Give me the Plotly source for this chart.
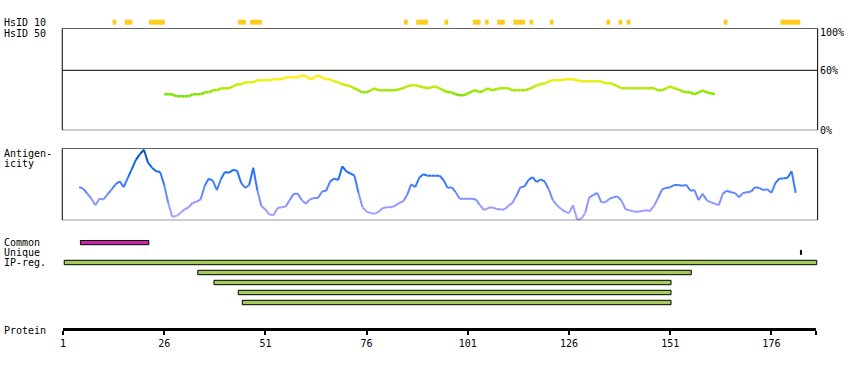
import plotly.graph_objects as go

# ---------------- data ----------------
protein_length = 187

# HsID 10 blocks (first and last residue of each block)
hsid10_start = [13, 16, 22, 44, 47, 85, 88, 95, 102, 105, 108, 112, 116, 121, 135, 138, 140, 164, 178]
hsid10_end   = [13, 17, 25, 45, 49, 85, 90, 95, 103, 105, 109, 114, 116, 121, 135, 138, 140, 164, 182]

# HsID 50 identity (%) per residue, starting at residue 26
hsid50_first_residue = 26
hsid50_percent = [
    36, 36, 36, 34, 34, 34, 34, 36, 36, 36,
    38, 38, 40, 40, 42, 42, 42, 44, 46, 46,
    48, 48, 48, 50, 50, 50, 50, 51, 51, 51,
    53, 53, 53, 53, 55, 54, 51, 53, 55, 53,
    51, 51, 49, 48, 46, 45, 44, 42, 40, 38,
    38, 40, 42, 40, 40, 40, 40, 40, 41, 42,
    44, 45, 45, 44, 43, 42, 43, 44, 42, 40,
    38, 38, 36, 35, 35, 37, 39, 40, 38, 40,
    42, 40, 41, 42, 42, 42, 40, 40, 40, 40,
    41, 43, 45, 46, 47, 49, 50, 50, 50, 51,
    51, 51, 50, 49, 49, 49, 49, 49, 49, 47,
    47, 46, 44, 42, 42, 42, 42, 42, 42, 42,
    42, 42, 40, 40, 42, 44, 42, 41, 39, 38,
    38, 36, 38, 40, 38, 37, 36,
]

# Antigenicity score (0-100) per residue, starting at residue 5
antigenicity_first_residue = 5
antigenicity_score = [
    46, 44, 37, 30, 21, 30, 29, 36, 43, 50,
    54, 46, 59, 71, 84, 92, 98, 80, 73, 68,
    67, 49, 24, 5, 6, 10, 15, 18, 24, 26,
    29, 48, 58, 55, 42, 57, 67, 66, 70, 69,
    52, 45, 49, 73, 42, 20, 15, 8, 7, 17,
    18, 19, 28, 37, 37, 28, 23, 29, 31, 31,
    40, 41, 54, 58, 56, 75, 68, 65, 62, 38,
    18, 12, 10, 9, 12, 17, 18, 18, 20, 24,
    26, 35, 50, 46, 59, 64, 62, 62, 62, 62,
    56, 45, 46, 39, 30, 30, 30, 30, 29, 21,
    14, 17, 18, 16, 15, 15, 20, 24, 34, 46,
    47, 56, 60, 53, 57, 54, 43, 28, 21, 16,
    12, 10, 21, 1, 2, 10, 32, 35, 38, 25,
    25, 30, 32, 33, 27, 15, 14, 12, 12, 13,
    14, 13, 20, 31, 43, 45, 46, 49, 49, 48,
    49, 41, 42, 28, 37, 28, 25, 23, 21, 37,
    41, 39, 38, 32, 38, 39, 40, 46, 45, 42,
    43, 38, 52, 58, 58, 59, 68, 38,
]

common_start = [5]
common_end = [22]
unique_residue = [183]
ipreg_start = [1, 34, 38, 44, 45]
ipreg_end = [187, 156, 151, 151, 151]

protein_tick_values = [1, 26, 51, 76, 101, 126, 151, 176]
protein_tick_labels = ["1", "26", "51", "76", "101", "126", "151", "176"]
hsid_scale_values = [100, 60, 0]
hsid_scale_labels = ["100%", "60%", "0%"]
hsid_threshold = 60

# ---------------- layout helpers ----------------
W, H = 850, 370
X0_PX = 63.0
PX_PER_RES = 4.048
x_range = [1 - X0_PX / PX_PER_RES, 1 + (W - X0_PX) / PX_PER_RES]
FONT = "DejaVu Sans Mono"


def pfy(py):
    return 1 - py / H


def pfx(px):
    return px / W


def lerp(a, b, t):
    return a + (b - a) * t


def hsid_color(v):
    t = min(max((v - 35) / (52 - 35), 0), 1)
    return "rgb(%d,%d,%d)" % (round(lerp(120, 255, t)), round(lerp(230, 240, t)), round(lerp(0, 20, t)))


ANT_STOPS = [(0, (176, 164, 255)), (25, (140, 150, 255)), (45, (80, 130, 255)),
             (65, (28, 110, 250)), (85, (10, 90, 215)), (100, (0, 70, 170))]


def antigen_color(v):
    for (v0, c0), (v1, c1) in zip(ANT_STOPS[:-1], ANT_STOPS[1:]):
        if v <= v1:
            t = (v - v0) / (v1 - v0)
            return "rgb(%d,%d,%d)" % tuple(round(lerp(a, b, t)) for a, b in zip(c0, c1))
    return "rgb(%d,%d,%d)" % ANT_STOPS[-1][1]


def segment_groups(first, vals, color_fn):
    groups = {}
    for i in range(len(vals) - 1):
        c = color_fn((vals[i] + vals[i + 1]) / 2)
        xs, ys = groups.setdefault(c, ([], []))
        xs += [first + i, first + i + 1, None]
        ys += [vals[i], vals[i + 1], None]
    return groups


fig = go.Figure()

for c, (xs, ys) in segment_groups(hsid50_first_residue, hsid50_percent, hsid_color).items():
    fig.add_trace(go.Scatter(x=xs, y=ys, mode="lines", xaxis="x", yaxis="y",
                             line=dict(color=c, width=2.6), hoverinfo="skip", showlegend=False))

for c, (xs, ys) in segment_groups(antigenicity_first_residue, antigenicity_score, antigen_color).items():
    fig.add_trace(go.Scatter(x=xs, y=ys, mode="lines", xaxis="x", yaxis="y2",
                             line=dict(color=c, width=2), hoverinfo="skip", showlegend=False))

# invisible trace to activate the track axis
fig.add_trace(go.Scatter(x=[1], y=[0], mode="markers", xaxis="x", yaxis="y3",
                         marker=dict(opacity=0), hoverinfo="skip", showlegend=False))

shapes = []
# HsID 10 blocks
for s, e in zip(hsid10_start, hsid10_end):
    shapes.append(dict(type="rect", xref="x", yref="y3", x0=s + 0.25, x1=e + 1.15,
                       y0=19.7, y1=24.7, fillcolor="#ffcc1e", line=dict(width=0)))
# HsID box + 60% line
bx0, bx1 = 1 - 0.18, protein_length + 0.42
shapes.append(dict(type="rect", xref="x", yref="y", x0=bx0, x1=bx1, y0=0, y1=102,
                   line=dict(color="black", width=1), fillcolor="rgba(0,0,0,0)"))
shapes.append(dict(type="line", xref="x", yref="y", x0=bx0, x1=bx1, y0=hsid_threshold, y1=hsid_threshold,
                   line=dict(color="black", width=1)))
# Antigenicity box
shapes.append(dict(type="rect", xref="x", yref="y2", x0=bx0, x1=bx1, y0=0, y1=100,
                   line=dict(color="black", width=1), fillcolor="rgba(0,0,0,0)"))
# Common
for s, e in zip(common_start, common_end):
    shapes.append(dict(type="rect", xref="x", yref="y3", x0=s + 0.3, x1=e + 0.2,
                       y0=240.5, y1=244.7, fillcolor="#cc22aa", line=dict(color="black", width=1)))
# Unique
for u in unique_residue:
    shapes.append(dict(type="line", xref="x", yref="y3", x0=u + 0.3, x1=u + 0.3,
                       y0=250, y1=254.8, line=dict(color="black", width=2)))
# IP regions
for k, (s, e) in enumerate(zip(ipreg_start, ipreg_end)):
    yc = 262.5 + 10 * k
    shapes.append(dict(type="rect", xref="x", yref="y3", x0=s + 0.3, x1=e + 0.2,
                       y0=yc - 2.2, y1=yc + 2.2, fillcolor="#a3cc5c", line=dict(color="black", width=1)))
# Protein axis line
shapes.append(dict(type="line", xref="x", yref="y3", x0=1, x1=protein_length, y0=329.5, y1=329.5,
                   line=dict(color="black", width=3)))

annotations = []


def label(text, px, py, xanchor="left", yshift=0):
    annotations.append(dict(text=text, x=pfx(px), y=pfy(py), xref="paper", yref="paper",
                            xanchor=xanchor, yanchor="middle", showarrow=False, yshift=yshift,
                            font=dict(family=FONT, size=10, color="black")))


for txt, py in [("HsID 10", 22.8), ("HsID 50", 33.3), ("Antigen-", 153), ("icity", 163.3),
                ("Common", 242.8), ("Unique", 252.8), ("IP-reg.", 262.8), ("Protein", 330)]:
    label(txt, 1.5, py)

for v, t in zip(hsid_scale_values, hsid_scale_labels):
    annotations.append(dict(text=t, x=pfx(818), y=v, xref="paper", yref="y",
                            xanchor="left", yanchor="middle", showarrow=False,
                            yshift=-2 if v == 100 else 0,
                            font=dict(family=FONT, size=10, color="black")))

fig.update_layout(
    width=W, height=H, margin=dict(l=0, r=0, t=0, b=0),
    paper_bgcolor="white", plot_bgcolor="rgba(0,0,0,0)",
    shapes=shapes, annotations=annotations,
    xaxis=dict(domain=[0, 1], range=x_range, anchor="free", position=pfy(329.5),
               showgrid=False, zeroline=False, showline=False,
               ticks="outside", ticklen=4, tickwidth=2, tickcolor="black",
               tickvals=protein_tick_values + [protein_length],
               ticktext=protein_tick_labels + [""],
               tickfont=dict(family=FONT, size=10, color="black")),
    yaxis=dict(domain=[pfy(130.3), pfy(28.3)], range=[0, 102], visible=False, anchor="x"),
    yaxis2=dict(domain=[pfy(220.3), pfy(148.3)], range=[0, 100], visible=False, anchor="x"),
    yaxis3=dict(domain=[0, 1], range=[H, 0], visible=False, anchor="x"),
)

fig.write_html("out.html", config={"displayModeBar": False, "staticPlot": True},
               post_script="document.body.style.margin='0';document.body.style.padding='0';")
